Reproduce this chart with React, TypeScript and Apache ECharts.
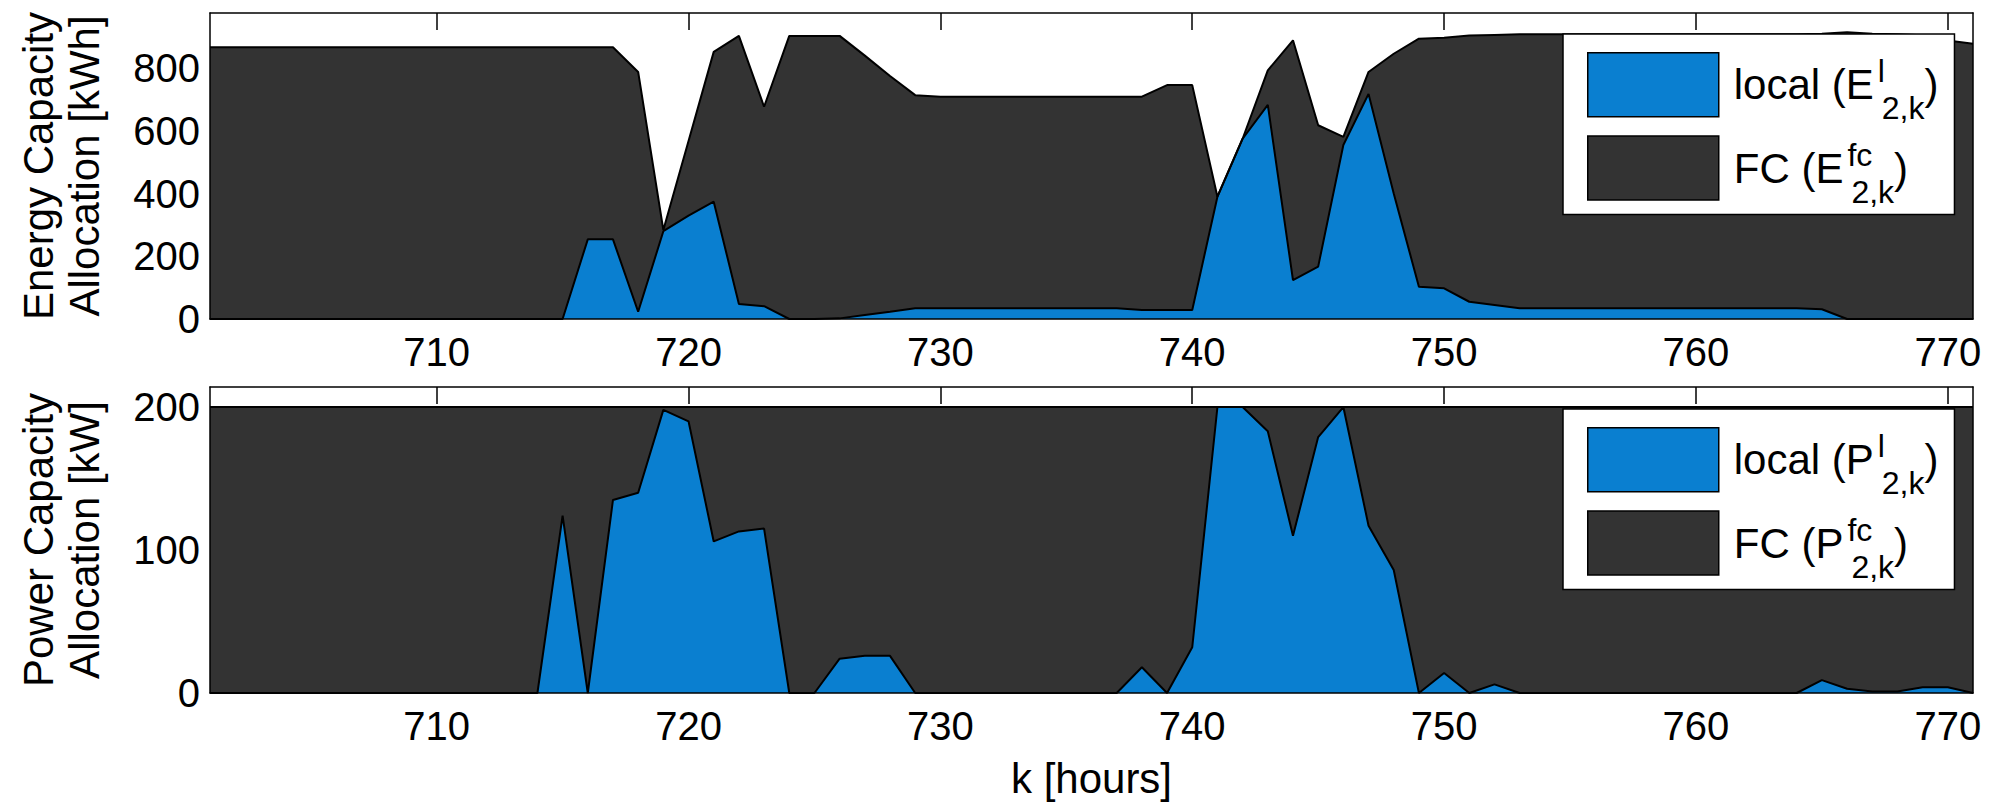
import { useEffect, useRef } from 'react';
import * as echarts from 'echarts';

// Hour index k on the horizontal axis
const hours = [
  701, 702, 703, 704, 705, 706, 707, 708, 709, 710,
  711, 712, 713, 714, 715, 716, 717, 718, 719, 720,
  721, 722, 723, 724, 725, 726, 727, 728, 729, 730,
  731, 732, 733, 734, 735, 736, 737, 738, 739, 740,
  741, 742, 743, 744, 745, 746, 747, 748, 749, 750,
  751, 752, 753, 754, 755, 756, 757, 758, 759, 760,
  761, 762, 763, 764, 765, 766, 767, 768, 769, 770,
  771,
];

// Energy capacity allocation [kWh]
const energyLocal = [
  0, 0, 0, 0, 0, 0, 0, 0, 0, 0,
  0, 0, 0, 0, 0, 254, 254, 23, 280, 330,
  374, 48, 41, 0, 0, 2, 13, 23, 34, 34,
  34, 34, 34, 34, 34, 34, 34, 29, 29, 29,
  390, 575, 683, 124, 167, 555, 718, 400, 103, 98,
  55, 45, 34, 34, 34, 34, 34, 34, 34, 34,
  34, 34, 34, 34, 31, 0, 0, 0, 0, 0,
  0,
];
const energyFC = [
  867, 867, 867, 867, 867, 867, 867, 867, 867, 867,
  867, 867, 867, 867, 867, 613, 613, 765, 4, 238,
  478, 855, 636, 903, 903, 901, 827, 752, 680, 675,
  675, 675, 675, 675, 675, 675, 675, 680, 717, 717,
  0, 0, 110, 765, 451, 26, 70, 446, 791, 799,
  849, 861, 874, 874, 874, 874, 874, 874, 874, 874,
  874, 874, 874, 874, 879, 915, 910, 908, 905, 888,
  878,
];

// Power capacity allocation [kW]
const powerLocal = [
  0, 0, 0, 0, 0, 0, 0, 0, 0, 0,
  0, 0, 0, 0, 124, 0, 135, 140, 198, 190,
  106, 113, 115, 0, 0, 24, 26, 26, 0, 0,
  0, 0, 0, 0, 0, 0, 0, 18, 0, 32,
  200, 200, 183, 110, 179, 200, 117, 86, 0, 14,
  0, 6, 0, 0, 0, 0, 0, 0, 0, 0,
  0, 0, 0, 0, 9, 3, 1, 1, 4, 4,
  0,
];
const powerFC = [
  200, 200, 200, 200, 200, 200, 200, 200, 200, 200,
  200, 200, 200, 200, 76, 200, 65, 60, 2, 10,
  94, 87, 85, 200, 200, 176, 174, 174, 200, 200,
  200, 200, 200, 200, 200, 200, 200, 182, 200, 168,
  0, 0, 17, 90, 21, 0, 83, 114, 200, 186,
  200, 194, 200, 200, 200, 200, 200, 200, 200, 200,
  200, 200, 200, 200, 191, 197, 199, 199, 196, 196,
  200,
];

const xTickValues = [710, 720, 730, 740, 750, 760, 770];
const energyMax = 976;
const powerMax = 214;

const BLUE = '#0a7fd0';
const DARK = '#333333';
const INK = '#000000';
const FONT = "'Liberation Sans', Arial, Helvetica, sans-serif";

const legendText: Record<string, string> = {
  'local E': '{t|local (E}{sup|l}{sub|2,k}{t|)}',
  'FC E': '{t|FC (E}{sup|fc}{sub|2,k}{t|)}',
  'local P': '{t|local (P}{sup|l}{sub|2,k}{t|)}',
  'FC P': '{t|FC (P}{sup|fc}{sub|2,k}{t|)}',
};

const isMajorHour = (_i: number, v: any) => xTickValues.includes(Number(v));

const axisLineStyle = { color: INK, width: 1.5 };

function bottomX(grid: number, withName: boolean) {
  return {
    type: 'category',
    gridIndex: grid,
    data: hours,
    boundaryGap: false,
    position: 'bottom',
    z: 10,
    axisLine: { show: true, onZero: false, lineStyle: axisLineStyle },
    axisTick: { show: false },
    axisLabel: {
      interval: isMajorHour,
      margin: 13,
      fontSize: 40,
      color: INK,
      fontFamily: FONT,
    },
    splitLine: { show: false },
    ...(withName
      ? {
          name: 'k [hours]',
          nameLocation: 'middle',
          nameGap: 64,
          nameTextStyle: { fontSize: 42, color: INK, fontFamily: FONT },
        }
      : {}),
  };
}

function topX(grid: number) {
  return {
    type: 'category',
    gridIndex: grid,
    data: hours,
    boundaryGap: false,
    position: 'top',
    z: 10,
    axisLine: { show: true, onZero: false, lineStyle: axisLineStyle },
    axisTick: {
      show: true,
      inside: true,
      length: 17,
      interval: isMajorHour,
      lineStyle: axisLineStyle,
    },
    axisLabel: { show: false },
    splitLine: { show: false },
  };
}

function leftY(grid: number, max: number, interval: number, name: string) {
  return {
    type: 'value',
    gridIndex: grid,
    min: 0,
    max,
    interval,
    position: 'left',
    z: 10,
    axisLine: { show: true, onZero: false, lineStyle: axisLineStyle },
    axisTick: { show: false },
    axisLabel: {
      fontSize: 40,
      color: INK,
      margin: 10,
      showMaxLabel: false,
      fontFamily: FONT,
    },
    splitLine: { show: false },
    name,
    nameLocation: 'middle',
    nameRotate: 90,
    nameGap: 103,
    nameTextStyle: { fontSize: 42, lineHeight: 46, color: INK, fontFamily: FONT },
  };
}

function rightY(grid: number, max: number) {
  return {
    type: 'value',
    gridIndex: grid,
    min: 0,
    max,
    position: 'right',
    z: 10,
    axisLine: { show: true, onZero: false, lineStyle: axisLineStyle },
    axisTick: { show: false },
    axisLabel: { show: false },
    splitLine: { show: false },
  };
}

function areaSeries(name: string, stack: string, axis: number, data: number[], color: string) {
  return {
    type: 'line',
    name,
    stack,
    xAxisIndex: axis,
    yAxisIndex: axis,
    data,
    symbol: 'none',
    showSymbol: false,
    z: 2,
    itemStyle: { color },
    lineStyle: { color: INK, width: 2 },
    areaStyle: { color, opacity: 1 },
  };
}

// Superscript and subscript share one x position: the superscript token has no width
const richText = {
  t: { fontSize: 42, lineHeight: 48, color: INK, fontFamily: FONT },
  sup: {
    fontSize: 32, height: 1, lineHeight: 48, width: 0,
    color: INK, fontFamily: FONT, padding: [0, 0, 27, 4],
  },
  sub: {
    fontSize: 32, height: 1, lineHeight: 48,
    color: INK, fontFamily: FONT, padding: [47, 0, 0, 4],
  },
};

function legendBox(top: number, names: string[]) {
  return {
    orient: 'vertical',
    left: 1563,
    top,
    padding: [18, 16, 7, 24],
    itemGap: 11,
    itemWidth: 131,
    itemHeight: 64,
    icon: 'rect',
    backgroundColor: '#ffffff',
    borderColor: INK,
    borderWidth: 1.5,
    selectedMode: false,
    formatter: (name: string) => legendText[name],
    textStyle: { padding: [0, 0, 0, 10], rich: richText },
    data: [
      { name: names[0], itemStyle: { color: BLUE, borderColor: INK, borderWidth: 1.5 } },
      { name: names[1], itemStyle: { color: DARK, borderColor: INK, borderWidth: 1.5 } },
    ],
  };
}

export default function App() {
  const ref = useRef<HTMLDivElement>(null);

  useEffect(() => {
    if (!ref.current) return;
    const chart = echarts.init(ref.current, null, { renderer: 'svg' });
    chart.setOption({
      animation: false,
      backgroundColor: '#ffffff',
      textStyle: { fontFamily: FONT },
      grid: [
        { left: 210, top: 13, width: 1763, height: 306 },
        { left: 210, top: 387, width: 1763, height: 306 },
      ],
      xAxis: [bottomX(0, false), topX(0), bottomX(1, true), topX(1)],
      yAxis: [
        leftY(0, energyMax, 200, 'Energy Capacity\nAllocation [kWh]'),
        rightY(0, energyMax),
        leftY(1, powerMax, 100, 'Power Capacity\nAllocation [kW]'),
        rightY(1, powerMax),
      ],
      legend: [
        legendBox(34, ['local E', 'FC E']),
        legendBox(409, ['local P', 'FC P']),
      ],
      series: [
        areaSeries('local E', 'energy', 0, energyLocal, BLUE),
        areaSeries('FC E', 'energy', 0, energyFC, DARK),
        areaSeries('local P', 'power', 2, powerLocal, BLUE),
        areaSeries('FC P', 'power', 2, powerFC, DARK),
      ],
    });
    return () => chart.dispose();
  }, []);

  return (
    <div
      ref={ref}
      style={{ position: 'absolute', left: 0, top: 0, width: 1995, height: 809, background: '#fff' }}
    />
  );
}
